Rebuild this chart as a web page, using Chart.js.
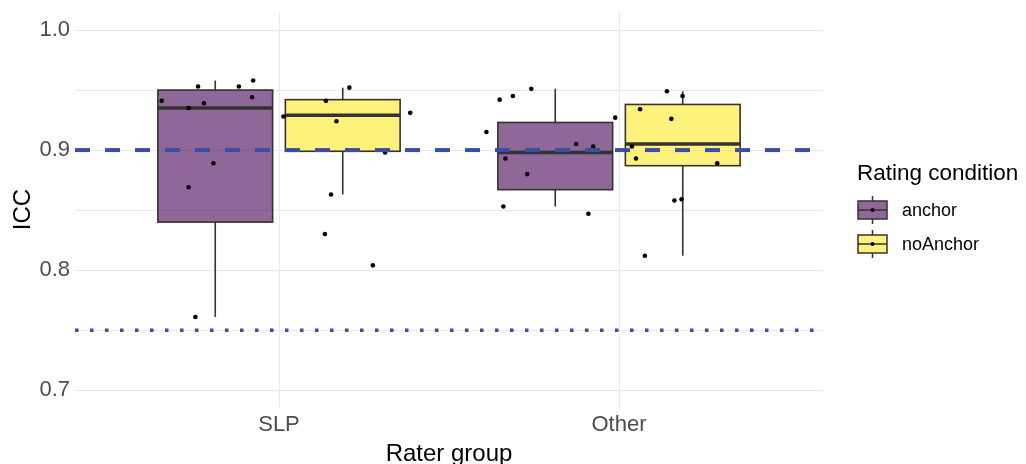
<!DOCTYPE html>
<html>
<head>
<meta charset="utf-8">
<script src="https://cdn.jsdelivr.net/npm/chart.js@4.4.0/dist/chart.umd.min.js"></script>
<style>
  html, body { margin: 0; padding: 0; background: #fff; }
  #wrap { width: 1026px; height: 464px; }
</style>
</head>
<body>
<div id="wrap"><canvas id="iccChart" width="1026" height="464"></canvas></div>
<script>
// categories
const groups = ["SLP", "Other"];
const conditions = ["anchor", "noAnchor"];

// box stats per group (SLP, Other)
const anchorLow    = [0.761, 0.853];
const anchorQ1     = [0.840, 0.867];
const anchorMedian = [0.935, 0.898];
const anchorQ3     = [0.950, 0.923];
const anchorHigh   = [0.958, 0.951];

const noAnchorLow    = [0.863, 0.812];
const noAnchorQ1     = [0.899, 0.887];
const noAnchorMedian = [0.929, 0.905];
const noAnchorQ3     = [0.942, 0.938];
const noAnchorHigh   = [0.952, 0.949];

// jittered raw points (x = jittered group position, y = ICC)
const anchorPointX = [0.655, 0.762, 0.734, 0.779, 0.882, 0.924, 0.921, 0.807, 0.734, 0.754,
                      1.649, 1.688, 1.742, 1.610, 1.874, 1.924, 1.666, 1.730, 1.660, 1.910, 1.989];
const anchorPointY = [0.941, 0.953, 0.935, 0.939, 0.953, 0.958, 0.944, 0.889, 0.869, 0.761,
                      0.942, 0.945, 0.951, 0.915, 0.905, 0.903, 0.893, 0.880, 0.853, 0.847, 0.927];
const noAnchorPointX = [1.207, 1.138, 1.169, 1.013, 1.386, 1.312, 1.153, 1.135, 1.276,
                        2.141, 2.187, 2.062, 2.154, 2.038, 2.050, 2.289, 2.163, 2.184, 2.076];
const noAnchorPointY = [0.952, 0.941, 0.924, 0.928, 0.931, 0.898, 0.863, 0.830, 0.804,
                        0.949, 0.945, 0.934, 0.926, 0.903, 0.893, 0.889, 0.858, 0.859, 0.812];

// axis ticks and reference lines
const yTicks = [0.7, 0.75, 0.8, 0.85, 0.9, 0.95, 1.0];
const goodLine = 0.9;
const moderateLine = 0.75;

const fills = ["rgba(68,1,84,0.6)", "rgba(253,231,37,0.6)"];
const lineBlue = "#3a4ea5";
const font = "Arial, 'Liberation Sans', sans-serif";

const boxStats = [
    { low: anchorLow, q1: anchorQ1, med: anchorMedian, q3: anchorQ3, high: anchorHigh },
    { low: noAnchorLow, q1: noAnchorQ1, med: noAnchorMedian, q3: noAnchorQ3, high: noAnchorHigh }
];

const toPoints = (xs, ys) => xs.map((x, i) => ({ x: x, y: ys[i] }));

const boxPlugin = {
    id: "boxes",
    beforeDatasetsDraw(chart) {
        const ctx = chart.ctx;
        const xs = chart.scales.x, ys = chart.scales.y;
        ctx.save();
        boxStats.forEach((s, c) => {
            const off = c === 0 ? -0.1875 : 0.1875;
            groups.forEach((g, i) => {
                const cx = i + 1 + off;
                const l = xs.getPixelForValue(cx - 0.16875);
                const r = xs.getPixelForValue(cx + 0.16875);
                const m = xs.getPixelForValue(cx);
                const yq1 = ys.getPixelForValue(s.q1[i]);
                const yq3 = ys.getPixelForValue(s.q3[i]);
                ctx.strokeStyle = "#333333";
                ctx.lineWidth = 1.6;
                ctx.beginPath();
                ctx.moveTo(m, ys.getPixelForValue(s.high[i]));
                ctx.lineTo(m, yq3);
                ctx.moveTo(m, yq1);
                ctx.lineTo(m, ys.getPixelForValue(s.low[i]));
                ctx.stroke();
                ctx.fillStyle = fills[c];
                ctx.fillRect(l, yq3, r - l, yq1 - yq3);
                ctx.strokeRect(l, yq3, r - l, yq1 - yq3);
                ctx.lineWidth = 3.5;
                const ym = ys.getPixelForValue(s.med[i]);
                ctx.beginPath();
                ctx.moveTo(l, ym);
                ctx.lineTo(r, ym);
                ctx.stroke();
            });
        });
        ctx.restore();
    },
    afterDraw(chart) {
        // legend with boxplot keys
        const ctx = chart.ctx;
        ctx.save();
        ctx.fillStyle = "#000";
        ctx.font = "22.5px " + font;
        ctx.textBaseline = "alphabetic";
        ctx.fillText("Rating condition", 857, 180);
        conditions.forEach((name, c) => {
            const cy = 210 + c * 34;
            const l = 858, r = 887, mx = 872.5;
            ctx.strokeStyle = "#333333";
            ctx.lineWidth = 1.5;
            ctx.beginPath();
            ctx.moveTo(mx, cy - 14); ctx.lineTo(mx, cy - 9);
            ctx.moveTo(mx, cy + 9); ctx.lineTo(mx, cy + 14);
            ctx.stroke();
            ctx.fillStyle = fills[c];
            ctx.fillRect(l, cy - 9, r - l, 18);
            ctx.strokeRect(l, cy - 9, r - l, 18);
            ctx.beginPath();
            ctx.moveTo(l, cy); ctx.lineTo(r, cy);
            ctx.stroke();
            ctx.fillStyle = "#000";
            ctx.beginPath();
            ctx.arc(mx, cy, 2, 0, Math.PI * 2);
            ctx.fill();
            ctx.font = "18px " + font;
            ctx.textBaseline = "middle";
            ctx.fillText(name, 902, cy + 1);
        });
        ctx.restore();
    }
};

new Chart(document.getElementById("iccChart"), {
    type: "scatter",
    data: {
        datasets: [
            {
                label: "good",
                data: [{ x: 0.4, y: goodLine }, { x: 2.6, y: goodLine }],
                showLine: true, borderColor: lineBlue, borderWidth: 4,
                borderDash: [15, 15], pointRadius: 0, order: 0
            },
            {
                label: "moderate",
                data: [{ x: 0.4, y: moderateLine }, { x: 2.6, y: moderateLine }],
                showLine: true, borderColor: lineBlue, borderWidth: 3.5,
                borderDash: [3.5, 11.5], pointRadius: 0, order: 0
            },
            {
                label: conditions[0],
                data: toPoints(anchorPointX, anchorPointY),
                backgroundColor: "#000", borderWidth: 0, pointRadius: 2.3, order: 1
            },
            {
                label: conditions[1],
                data: toPoints(noAnchorPointX, noAnchorPointY),
                backgroundColor: "#000", borderWidth: 0, pointRadius: 2.3, order: 1
            }
        ]
    },
    options: {
        responsive: false,
        animation: false,
        layout: { padding: { top: 12, right: 203, left: 0, bottom: 0 } },
        plugins: { legend: { display: false }, tooltip: { enabled: false } },
        scales: {
            x: {
                type: "linear", min: 0.4, max: 2.6,
                afterBuildTicks: s => { s.ticks = groups.map((g, i) => ({ value: i + 1 })); },
                afterFit: s => { s.height = 57; s.paddingLeft = 0; s.paddingRight = 0; },
                grid: { color: "#e8e8e8", lineWidth: 1, drawTicks: false },
                border: { display: false },
                ticks: {
                    padding: 5, color: "#4d4d4d",
                    font: { family: font, size: 22 },
                    callback: v => groups[Math.round(v) - 1]
                },
                title: {
                    display: true, text: "Rater group", color: "#000",
                    font: { family: font, size: 24, lineHeight: 1 }, padding: { top: 0, bottom: -2 }
                }
            },
            y: {
                min: 0.686, max: 1.015,
                afterBuildTicks: s => { s.ticks = yTicks.map(v => ({ value: v })); },
                afterFit: s => { s.width = 75; s.paddingTop = 0; s.paddingBottom = 0; },
                grid: { color: "#e8e8e8", lineWidth: 1, drawTicks: false },
                border: { display: false },
                ticks: {
                    padding: 5, color: "#4d4d4d",
                    font: { family: font, size: 22 },
                    callback: v => (Math.abs(v * 10 - Math.round(v * 10)) < 1e-6 ? v.toFixed(1) : "")
                },
                title: {
                    display: true, text: "ICC", color: "#000",
                    font: { family: font, size: 24 }, padding: { top: 9, bottom: 0 }
                }
            }
        }
    },
    plugins: [boxPlugin]
});
</script>
</body>
</html>
